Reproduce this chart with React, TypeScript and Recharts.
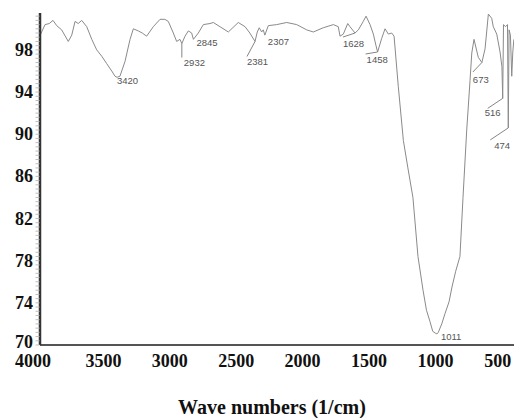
import { LineChart, Line, XAxis, YAxis, ReferenceDot, Label } from "recharts";

// FTIR spectrum
const wavenumbers = [
  3995, 3962, 3930, 3902, 3874, 3837, 3787, 3761, 3736, 3712, 3686, 3648, 3610, 3573, 3535, 3498,
  3460, 3435, 3420, 3398, 3360, 3322, 3297, 3260, 3230, 3197, 3147, 3096, 3060, 3034, 2996, 2971,
  2946, 2932, 2908, 2883, 2858, 2845, 2808, 2770, 2720, 2695, 2645, 2582, 2507, 2456, 2420, 2381,
  2364, 2349, 2331, 2319, 2307, 2281, 2218, 2142, 2067, 1992, 1942, 1867, 1791, 1754, 1741, 1716,
  1683, 1666, 1628, 1603, 1566, 1545, 1515, 1490, 1470, 1458, 1427, 1402, 1377, 1352, 1334, 1302,
  1264, 1230, 1192, 1154, 1116, 1090, 1063, 1043, 1020, 1011, 1001, 975, 950, 920, 898, 870,
  838, 815, 787, 762, 749, 732, 700, 673, 649, 624, 599, 587, 561, 536, 522, 516,
  510, 495, 480, 474, 468, 458, 448, 440, 432,
];
const transmittance = [
  99.5, 100.4, 100.5, 100.8, 100.3, 99.9, 98.8, 99.4, 100.7, 100.5, 100.8, 100.2, 99.0, 98.0, 97.4, 96.7,
  96.0, 95.5, 95.4, 95.5, 96.9, 99.0, 100.0, 99.8, 99.6, 99.3, 100.2, 100.9, 100.9, 100.7, 99.6, 98.8,
  99.0, 98.6, 99.3, 99.8, 99.6, 99.0, 99.6, 100.4, 100.5, 100.6, 100.2, 99.7, 100.6, 100.2, 99.6, 98.8,
  99.7, 100.1, 99.7, 99.9, 99.4, 100.3, 100.4, 100.6, 100.4, 99.9, 99.7, 100.1, 100.4, 100.2, 99.3, 99.5,
  100.5, 100.2, 99.6, 99.9, 100.7, 101.2, 100.4, 99.5, 98.4, 97.8, 99.1, 100.0, 99.5, 99.6, 99.3, 94.5,
  89.4, 86.8, 84.0, 78.4, 75.2, 73.3, 72.2, 71.3, 71.1, 71.05, 71.2, 72.0, 73.0, 74.1, 75.5, 77.0,
  78.4, 84.0, 90.4, 95.1, 97.7, 99.0, 97.3, 96.8, 98.1, 101.4, 101.0, 100.2, 99.5, 97.8, 96.4, 93.4,
  100.4, 100.2, 100.4, 90.6, 99.9, 99.4, 95.5, 97.8, 99.0,
];

const xTicks = [4000, 3500, 3000, 2500, 2000, 1500, 1000, 500];
const yTicks = [70, 74, 78, 82, 86, 90, 94, 98];

const peakWavenumbers = [3420, 2932, 2845, 2381, 2307, 1628, 1458, 1011, 673, 516, 474];
const peakValues = [95.4, 98.6, 99.0, 98.8, 99.4, 99.6, 97.8, 71.05, 96.8, 93.4, 90.6];

// where each peak label sits relative to its peak (text offset, optional leader end)
const peakLabelOffsets: Record<number, { tx: number; ty: number; lx?: number; ly?: number }> = {
  3420: { tx: 0, ty: 7 },
  2932: { tx: 2, ty: 22, lx: 0, ly: 14 },
  2845: { tx: 3, ty: 7 },
  2381: { tx: -8, ty: 24, lx: -8, ly: 15 },
  2307: { tx: 3, ty: 10 },
  1628: { tx: -12, ty: 14, lx: -12, ly: 4 },
  1458: { tx: -11, ty: 11, lx: -12, ly: 2 },
  1011: { tx: 4, ty: 6.5 },
  673: { tx: -9, ty: 20, lx: -9, ly: 9.5 },
  516: { tx: -18, ty: 18, lx: -15, ly: 10 },
  474: { tx: -14, ty: 21.5, lx: -18, ly: 12 },
};

const data = wavenumbers.map((w, i) => ({ w, t: transmittance[i] }));

const minorTicks: number[] = [];
for (let i = 0; i <= 78; i++) minorTicks.push(Math.round((70 + i * 0.4) * 10) / 10);

const serif = "'Liberation Serif', 'Times New Roman', serif";
const sans = "'Liberation Sans', Arial, sans-serif";

const XTick = (props: any) => {
  const { x, y, payload } = props;
  const dx = payload.value === 4000 || payload.value === 500 ? -7 : -3;
  return (
    <text x={x + dx} y={y + 22} textAnchor="middle" fontFamily={serif} fontWeight="bold" fontSize={18} fill="#111">
      {payload.value}
    </text>
  );
};

const YTick = (props: any) => {
  const { x, y, payload } = props;
  const major = yTicks.includes(payload.value);
  // bottom label sits a touch higher so it clears the 4000 below it
  const dy = payload.value === 70 ? 3 : 6;
  return (
    <g>
      <line x1={x - 4.5} x2={x - 0.5} y1={y} y2={y} stroke="#bdbdbd" strokeWidth={1} />
      {major && (
        <text x={x - 7} y={y + dy} textAnchor="end" fontFamily={serif} fontWeight="bold" fontSize={18} fill="#111">
          {payload.value}
        </text>
      )}
    </g>
  );
};

const PeakMark = (w: number) => (props: any) => {
  const { cx, cy } = props;
  const o = peakLabelOffsets[w];
  return (
    <g>
      {o.lx !== undefined && (
        <line x1={cx} y1={cy} x2={cx + o.lx} y2={cy + (o.ly ?? 0)} stroke="#777" strokeWidth={0.9} />
      )}
      <text x={cx + o.tx} y={cy + o.ty} fontFamily={sans} fontSize={9.5} fill="#555">
        {w}
      </text>
    </g>
  );
};

export default function App() {
  return (
    <div style={{ position: "absolute", left: 0, top: 0, width: 514, height: 418, background: "#fff" }}>
      <LineChart width={514} height={418} data={data} margin={{ top: 13, right: 0, left: 0, bottom: 0 }}>
        <XAxis
          dataKey="w"
          type="number"
          domain={[431, 4000]}
          reversed
          ticks={xTicks}
          interval={0}
          height={73}
          tickSize={0}
          tickMargin={0}
          tickLine={false}
          tick={<XTick />}
          axisLine={{ stroke: "#555", strokeWidth: 2 }}
        >
          <Label
            content={(p: any) => (
              <text
                x={p.viewBox.x + p.viewBox.width / 2 - 5}
                y={414}
                textAnchor="middle"
                fontFamily={serif}
                fontWeight="bold"
                fontSize={20}
                fill="#111"
              >
                Wave numbers (1/cm)
              </text>
            )}
          />
        </XAxis>
        <YAxis
          type="number"
          domain={[70, 101.5]}
          ticks={minorTicks}
          interval={0}
          width={40}
          tickSize={0}
          tickMargin={0}
          tickLine={false}
          tick={<YTick />}
          axisLine={{ stroke: "#333", strokeWidth: 2.5 }}
        />
        <Line
          type="linear"
          dataKey="t"
          stroke="#8a8a8a"
          strokeWidth={1}
          dot={false}
          isAnimationActive={false}
        />
        {peakWavenumbers.map((w, i) => (
          <ReferenceDot key={w} x={w} y={peakValues[i]} r={0} ifOverflow="visible" shape={PeakMark(w)} />
        ))}
      </LineChart>
    </div>
  );
}
